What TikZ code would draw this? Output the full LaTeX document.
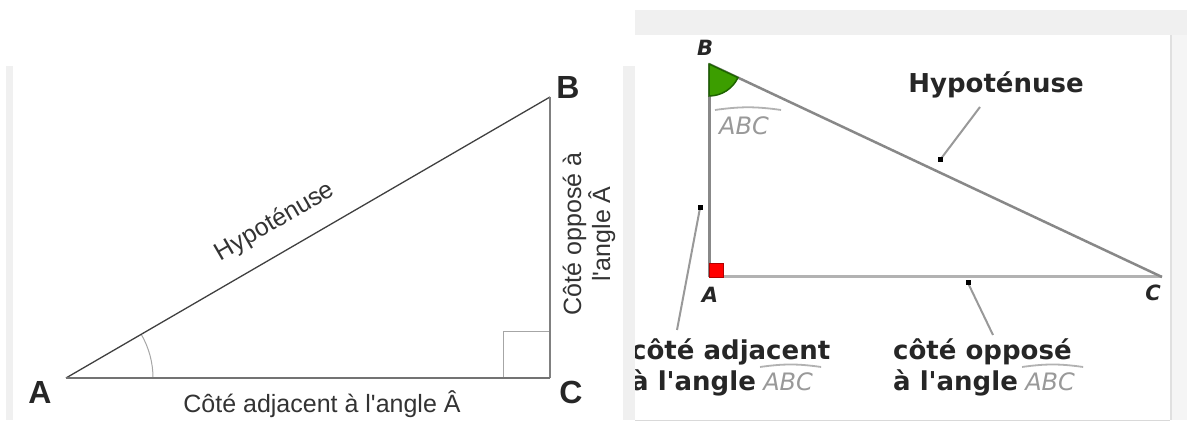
\documentclass[tikz,border=0pt]{standalone}
\usepackage{fontspec}
\setmainfont{Liberation Sans}
\newfontfamily\geofont{DejaVu Sans}
\usetikzlibrary{positioning, calc}

\definecolor{panelgray}{HTML}{F0F0F0}
\definecolor{edgegray}{HTML}{888888}
\definecolor{anglegreen}{HTML}{3C9E00}
\definecolor{anglegreendark}{HTML}{1E6400}

\begin{document}
\begin{tikzpicture}[x=1pt, y=1pt,
    side/.style={draw=black!75, line width=1.3pt},
    thinmark/.style={draw=black!35, line width=1pt},
    vlabel/.style={font=\fontsize{32}{36}\selectfont\bfseries, text=black!85, inner sep=0pt},
    sidelabel/.style={font=\fontsize{25}{29}\selectfont, text=black!80, inner sep=0pt, align=center},
    ggside/.style={draw=edgegray, line width=3pt},
    pointer/.style={draw=black!40, line width=2pt},
    gglabel/.style={font=\geofont\fontsize{26}{31}\selectfont\bfseries, text=black!85, inner sep=0pt},
    ggname/.style={font=\geofont\fontsize{24}{28}\selectfont\itshape, text=black!40, inner sep=0pt},
    hatline/.style={draw=black!30, line width=1.8pt},
    ggvertex/.style={font=\geofont\fontsize{21}{24}\selectfont\bfseries\itshape, text=black!85, inner sep=0pt},
    dot/.style={rectangle, fill=black, minimum size=5pt, inner sep=0pt}
  ]
    \useasboundingbox (0,0) rectangle (1187,422);

    \fill[panelgray] (6,2) rectangle (13,356);
    \coordinate (A) at (66,44);
    \coordinate (B) at (550,325);
    \coordinate (C) at (550,44);
    \draw[thinmark] ($(C)+(-47,0)$) |- ($(C)+(0,46)$);
    \draw[thinmark] ($(A)+(87,0)$) arc[start angle=0, end angle=30.1, radius=87];
    \draw[side] (A) -- (B);
    \draw[side, draw=black!50] (B) -- (C);
    \draw[side, draw=black!55, line width=1.8pt] (C) -- (A);
    \node[vlabel] (labA) at (40,30) {A};
    \node[vlabel] (labB) at (568,334) {B};
    \node[vlabel] (labC) at (571,30) {C};
    \node[sidelabel, rotate=30.1] (hyp) at (275,200) {Hypoténuse};
    \node[sidelabel] (adj) at (322,18) {Côté adjacent à l\textquotesingle angle Â};
    \node[sidelabel, rotate=90] (opp) at (589,188) {Côté opposé à\\l\textquotesingle angle Â};

    \fill[panelgray] (635,387) rectangle (1187,412);
    \fill[panelgray] (623,2) rectangle (635,356);
    \fill[panelgray!70] (1171,2) rectangle (1187,387);
    \draw[black!12, line width=1.5pt] (1171,2) -- (1171,387);
    \draw[black!15, line width=1pt] (635,1) -- (1170,1);

    \coordinate (rB) at (709,358);
    \coordinate (rA) at (709,145);
    \coordinate (rC) at (1162,145);
    \draw[ggside] (rA) -- (rB);
    \draw[ggside, draw=black!30] (rA) -- (rC);
    \draw[ggside, line width=2.5pt] (rB) -- (rC);
    \filldraw[fill=anglegreen, draw=anglegreendark, line width=1.5pt] (rB) -- ++(-90:32) arc[start angle=-90, end angle=-25.2, radius=32] -- cycle;
    \filldraw[fill=red, draw=red!70!black, line width=0.8pt] (709,145) rectangle (723,159);
    \node[ggvertex] (labrB) at (705,374) {B};
    \node[ggvertex] (labrA) at (710,127) {A};
    \node[ggvertex] (labrC) at (1153,129) {C};
    \node[ggname, anchor=base west] (abc) at (719,287) {ABC};
    \draw[hatline] ([xshift=-4pt, yshift=7pt]abc.north west) to[bend left=8] ([xshift=12pt, yshift=7pt]abc.north east);

    \node[gglabel] (hyplab) at (996,337) {Hypoténuse};
    \coordinate (hypfoot) at (940,262);
    \coordinate (hypend) at (980,315);
    \draw[pointer] (hypfoot) -- (hypend);
    \node[dot] (hypdot) at (hypfoot) {};

    \begin{scope}
      \clip (635,0) rectangle (1170,387);
      \node[gglabel, anchor=base west] (adjlab) at (631,62) {côté adjacent};
      \node[gglabel, anchor=base west] (adjang) at (631,31) {à l'angle};
    \end{scope}
    \node[ggname, anchor=base west] (adjabc) at ([xshift=7pt]adjang.base east) {ABC};
    \draw[hatline] ([xshift=-3pt, yshift=6pt]adjabc.north west) to[bend left=8] ([xshift=8pt, yshift=6pt]adjabc.north east);
    \coordinate (adjfoot) at (700,214);
    \coordinate (adjend) at (677,92);
    \draw[pointer] (adjfoot) -- (adjend);
    \node[dot] (adjdot) at (adjfoot) {};

    \node[gglabel, anchor=base west] (opplab) at (893,62) {côté opposé};
    \node[gglabel, anchor=base west] (oppang) at (893,31) {à l'angle};
    \node[ggname, anchor=base west] (oppabc) at ([xshift=7pt]oppang.base east) {ABC};
    \draw[hatline] ([xshift=-3pt, yshift=6pt]oppabc.north west) to[bend left=8] ([xshift=8pt, yshift=6pt]oppabc.north east);
    \coordinate (oppfoot) at (968,139);
    \coordinate (oppend) at (993,87);
    \draw[pointer] (oppfoot) -- (oppend);
    \node[dot] (oppdot) at (oppfoot) {};
  \end{tikzpicture}
\end{document}
